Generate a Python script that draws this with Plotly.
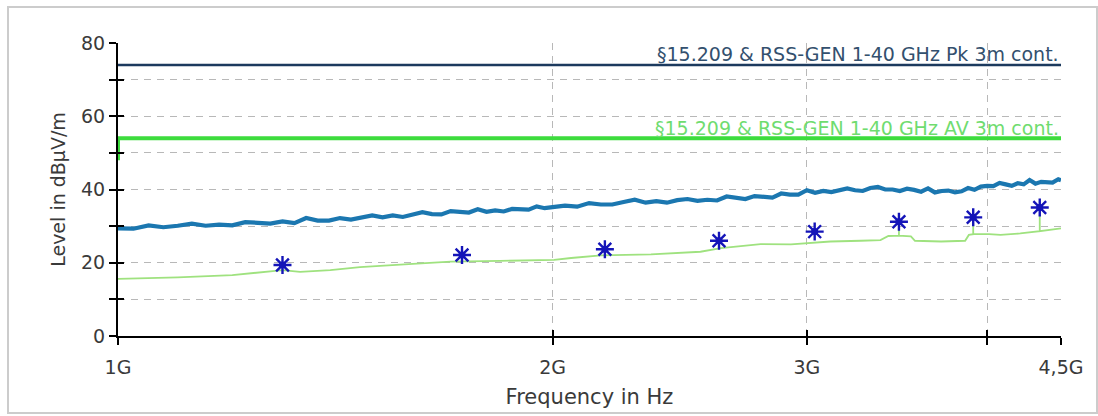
import math
import plotly.graph_objects as go

# ---------------- data ----------------
# Peak trace (MHz, dBµV/m)
peak_freq_mhz = [1000, 1025, 1050, 1075, 1100, 1125, 1150, 1175, 1200, 1225, 1250, 1275, 1300, 1325,
                 1350, 1375, 1400, 1425, 1450, 1475, 1500, 1525, 1550, 1575, 1600, 1625, 1650, 1675,
                 1700, 1725, 1750, 1775, 1800, 1825, 1850, 1875, 1900, 1925, 1950, 1975, 2000,
                 2040, 2080, 2120, 2160, 2200, 2240, 2280, 2320, 2360, 2400, 2440, 2480, 2520, 2560,
                 2600, 2640, 2680, 2720, 2760, 2800, 2840, 2880, 2920, 2960, 3000, 3040, 3080, 3120,
                 3160, 3200, 3240, 3280, 3320, 3360, 3400, 3440, 3480, 3520, 3560, 3600, 3640, 3680,
                 3720, 3760, 3800, 3840, 3880, 3920, 3960, 4000, 4040, 4080, 4120, 4160, 4200, 4240,
                 4280, 4320, 4360, 4400, 4440, 4480, 4500]
peak_level = [29.4, 29.3, 30.2, 29.7, 30.1, 30.7, 30.1, 30.4, 30.2, 31.1, 30.9, 30.7, 31.3, 30.8,
              32.2, 31.5, 31.5, 32.2, 31.8, 32.3, 32.9, 32.4, 32.9, 32.5, 33.1, 33.8, 33.3, 33.2,
              34.1, 33.8, 33.7, 34.6, 33.9, 34.3, 34.0, 34.7, 34.6, 34.5, 35.4, 34.9, 35.2,
              35.6, 35.3, 36.3, 35.9, 35.9, 36.6, 37.2, 36.4, 36.8, 36.4, 37.1, 37.4, 36.9, 37.2,
              37.0, 38.1, 37.7, 37.4, 38.2, 37.9, 37.8, 38.9, 38.6, 38.6, 39.8, 39.1, 39.6, 39.3,
              39.8, 40.3, 39.8, 39.6, 40.4, 40.7, 40.0, 40.0, 39.6, 40.2, 39.9, 39.4, 40.3, 39.2,
              39.6, 39.7, 39.2, 39.5, 40.4, 39.9, 40.8, 41.0, 40.9, 41.8, 41.4, 41.0, 41.7, 41.4,
              42.6, 41.6, 42.1, 42.1, 41.9, 42.8, 42.5]

# Average trace
avg_freq_mhz = [1000, 1100, 1200, 1258, 1285, 1300, 1337, 1403, 1471, 1569, 1700, 1840, 2005,
                2060, 2160, 2340, 2532, 2616, 2787, 2925, 3005, 3115, 3270, 3374, 3417, 3475,
                3475, 3475, 3542, 3565, 3717, 3862, 3885, 3912, 3912, 3912, 4012, 4086, 4217,
                4319, 4350, 4350, 4350, 4500]
avg_level = [15.6, 16.0, 16.6, 17.3, 17.8, 18.0, 17.5, 18.0, 18.8, 19.5, 20.3, 20.5, 20.8,
             21.3, 22.0, 22.3, 23.0, 24.0, 25.1, 25.0, 25.3, 25.8, 26.0, 26.2, 27.3, 27.4,
             30.0, 27.4, 27.2, 26.0, 25.8, 26.0, 27.6, 27.8, 30.8, 27.8, 27.8, 27.6, 28.0,
             28.5, 28.6, 33.0, 28.6, 29.4]

# Final measurement markers
marker_freq_mhz = [1300, 1731, 2174, 2608, 3038, 3475, 3912, 4350]
marker_level = [19.4, 22.1, 23.7, 26.0, 28.5, 31.2, 32.4, 35.1]

# Limit lines
pk_limit_freq_mhz = [1000, 4500]
pk_limit_level = [74, 74]
av_limit_freq_mhz = [1000, 1000, 4500]
av_limit_level = [48, 54, 54]
pk_limit_name = "§15.209 & RSS-GEN 1-40 GHz Pk 3m cont."
av_limit_name = "§15.209 & RSS-GEN 1-40 GHz AV 3m cont."

# Axes
x_tick_vals_hz = [1e9, 2e9, 3e9, 4e9, 4.5e9]
x_tick_text = ["1G", "2G", "3G", "", "4,5G"]
y_tick_vals = [0, 10, 20, 30, 40, 50, 60, 70, 80]
y_tick_text = ["0", "", "20", "", "40", "", "60", "", "80"]

# ---------------- figure ----------------
W, H = 1098, 416
ML, MR, MT, MB = 118, 37, 43, 80
FONT = "DejaVu Sans"
TXT = "#3a3a3a"
MK = "#1414b8"

def hz(lst):
    return [v * 1e6 for v in lst]

fig = go.Figure()

fig.add_trace(go.Scatter(x=hz(pk_limit_freq_mhz), y=pk_limit_level, mode="lines",
                         line=dict(color="#1c3a5e", width=2.5), hoverinfo="skip"))
fig.add_trace(go.Scatter(x=hz(av_limit_freq_mhz), y=av_limit_level, mode="lines",
                         line=dict(color="#3ddc3d", width=4), hoverinfo="skip"))
fig.add_trace(go.Scatter(x=hz(peak_freq_mhz), y=peak_level, mode="lines",
                         line=dict(color="#1b77b0", width=4.2)))
fig.add_trace(go.Scatter(x=hz(avg_freq_mhz), y=avg_level, mode="lines",
                         line=dict(color="#9fe27f", width=1.8)))
fig.add_trace(go.Scatter(x=hz(marker_freq_mhz), y=marker_level, mode="markers",
                         marker=dict(symbol="asterisk-open", size=15, color=MK,
                                     line=dict(color=MK, width=2.4))))
fig.add_trace(go.Scatter(x=hz(marker_freq_mhz), y=marker_level, mode="markers",
                         marker=dict(symbol="circle", size=7, color=MK)))

xr = [math.log10(x_tick_vals_hz[0]), math.log10(x_tick_vals_hz[-1])]

fig.add_annotation(x=xr[1], y=pk_limit_level[0], xref="x", yref="y", text=pk_limit_name,
                   showarrow=False, xanchor="right", yanchor="bottom", yshift=-2,
                   font=dict(family=FONT, size=19, color="#33506e"))
fig.add_annotation(x=xr[1], y=av_limit_level[-1], xref="x", yref="y", text=av_limit_name,
                   showarrow=False, xanchor="right", yanchor="bottom", yshift=-3,
                   font=dict(family=FONT, size=19, color="#6fdc6f"))

grid = dict(showgrid=True, gridcolor="#b8b8b8", gridwidth=1, griddash="7px,6px")

fig.update_layout(
    width=W, height=H,
    margin=dict(l=ML, r=MR, t=MT, b=MB, autoexpand=False),
    paper_bgcolor="white", plot_bgcolor="white",
    showlegend=False,
    font=dict(family=FONT, color=TXT),
    xaxis=dict(type="log", range=xr, tickvals=x_tick_vals_hz, ticktext=x_tick_text,
               showline=True, linecolor="black", linewidth=2, zeroline=False,
               ticks="outside", ticklen=7, tickwidth=2, tickcolor="black",
               tickfont=dict(family=FONT, size=19, color=TXT), ticklabelstandoff=6,
               title=dict(text="Frequency in Hz", font=dict(family=FONT, size=21, color=TXT),
                          standoff=13),
               **grid),
    yaxis=dict(range=[0, 80], tickvals=y_tick_vals, ticktext=y_tick_text,
               showline=True, linecolor="black", linewidth=2, zeroline=False,
               ticks="outside", ticklen=7, tickwidth=2, tickcolor="black",
               tickfont=dict(family=FONT, size=19, color=TXT),
               title=dict(text="Level in dBµV/m", font=dict(family=FONT, size=19, color=TXT),
                          standoff=10),
               **grid),
    xaxis2=dict(type="log", range=xr, tickvals=x_tick_vals_hz, overlaying="x", anchor="y",
                ticks="inside", ticklen=6, tickwidth=2, tickcolor="black",
                showticklabels=False, showgrid=False, showline=False, zeroline=False),
    yaxis2=dict(range=[0, 80], tickvals=y_tick_vals, overlaying="y", anchor="x",
                ticks="inside", ticklen=6, tickwidth=2, tickcolor="black",
                showticklabels=False, showgrid=False, showline=False, zeroline=False),
)

# invisible trace to activate overlay axes
fig.add_trace(go.Scatter(x=[x_tick_vals_hz[0]], y=[y_tick_vals[0]], xaxis="x2", yaxis="y2",
                         mode="markers", marker=dict(opacity=0), hoverinfo="skip"))

# outer frame (pixel positions converted to paper coords)
pw, ph = W - ML - MR, H - MT - MB
def px(xp):
    return (xp - ML) / pw
def py(yp):
    return (H - MB - yp) / ph
fig.add_shape(type="rect", xref="paper", yref="paper",
              x0=px(8), x1=px(1097), y0=py(413), y1=py(7),
              line=dict(color="#cccccc", width=2), fillcolor="rgba(0,0,0,0)", layer="below")

fig.write_html("out.html")
